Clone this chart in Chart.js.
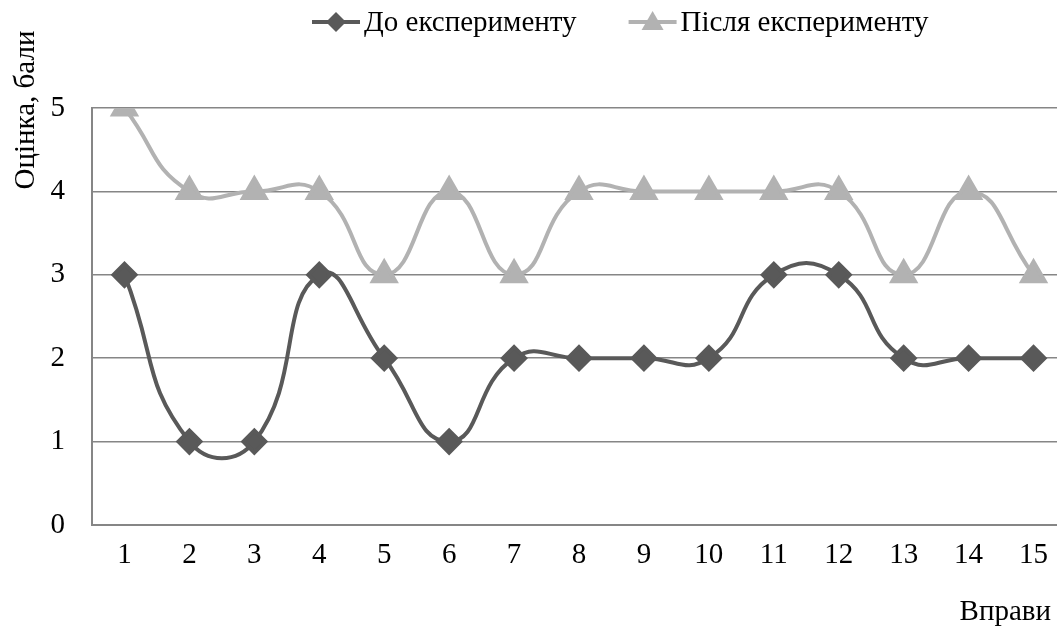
<!DOCTYPE html>
<html>
<head>
<meta charset="utf-8">
<script src="https://cdn.jsdelivr.net/npm/chart.js@4/dist/chart.umd.min.js"></script>
<style>
  html, body { margin: 0; padding: 0; background: #fff; overflow: hidden; }
  /* wider than the window: the plot area runs past the right edge, as in the original */
  #wrap { width: 1083px; height: 631px; }
  canvas { display: block; }
</style>
</head>
<body>
<div id="wrap"><canvas id="gradesChart"></canvas></div>
<script>
const exercises = ["1", "2", "3", "4", "5", "6", "7", "8", "9", "10", "11", "12", "13", "14", "15"];
const beforeScores = [3, 1, 1, 3, 2, 1, 2, 2, 2, 2, 3, 3, 2, 2, 2];
const afterScores = [5, 4, 4, 4, 3, 4, 3, 4, 4, 4, 4, 4, 3, 4, 3];
const seriesNames = ["До експерименту", "Після експерименту"];
const yTitle = "Оцінка, бали";
const xTitle = "Вправи";

const FONT = "'Liberation Serif', 'Times New Roman', serif";
const FS = 29;
const darkGray = "#595959";
const lightGray = "#b2b2b2";
const axisGray = "#868686";

// legend + axis titles drawn by hand (Excel style: line with marker through it)
const extras = {
  id: "extras",
  afterDraw(chart) {
    const c = chart.ctx;
    c.save();
    c.font = FS + "px " + FONT;
    c.fillStyle = "#000";
    c.textBaseline = "middle";

    const y = 22;
    let x = 312;
    chart.data.datasets.forEach((ds) => {
      c.strokeStyle = ds.borderColor;
      c.lineWidth = 4;
      c.beginPath();
      c.moveTo(x, y);
      c.lineTo(x + 48, y);
      c.stroke();
      c.fillStyle = ds.pointBackgroundColor;
      const cx = x + 24;
      c.beginPath();
      if (ds.pointStyle === "rectRot") {
        c.moveTo(cx, y - 10); c.lineTo(cx + 10, y); c.lineTo(cx, y + 10); c.lineTo(cx - 10, y);
      } else {
        c.moveTo(cx, y - 11); c.lineTo(cx + 11, y + 8); c.lineTo(cx - 11, y + 8);
      }
      c.closePath();
      c.fill();
      c.fillStyle = "#000";
      c.textAlign = "left";
      c.fillText(ds.label, x + 52, y + 1);
      x += 52 + c.measureText(ds.label).width + 52;
    });

    // x title, bottom right
    c.textAlign = "right";
    c.fillText(xTitle, 1051, 612);

    // y title, rotated, near the top of the plot
    c.translate(26, chart.chartArea.top + 2);
    c.rotate(-Math.PI / 2);
    c.textAlign = "center";
    c.fillText(yTitle, 0, 0);
    c.restore();
  }
};

new Chart(document.getElementById("gradesChart"), {
  type: "line",
  data: {
    labels: exercises,
    datasets: [
      {
        label: seriesNames[0],
        data: beforeScores,
        borderColor: darkGray,
        backgroundColor: darkGray,
        pointBackgroundColor: darkGray,
        pointBorderColor: darkGray,
        borderWidth: 4,
        pointStyle: "rectRot",
        pointRadius: 11,
        pointHoverRadius: 11,
        tension: 0.5
      },
      {
        label: seriesNames[1],
        data: afterScores,
        borderColor: lightGray,
        backgroundColor: lightGray,
        pointBackgroundColor: lightGray,
        pointBorderColor: lightGray,
        borderWidth: 4,
        pointStyle: "triangle",
        pointRadius: 13,
        pointHoverRadius: 13,
        tension: 0.5
      }
    ]
  },
  options: {
    responsive: true,
    maintainAspectRatio: false,
    animation: false,
    layout: { padding: { top: 108, right: 7, left: 0, bottom: 0 } },
    plugins: {
      legend: { display: false },
      tooltip: { enabled: false }
    },
    scales: {
      x: {
        offset: true,
        grid: { display: false, drawTicks: false },
        border: { display: true, color: axisGray, width: 2 },
        ticks: { color: "#000", font: { family: FONT, size: FS }, padding: 13, maxRotation: 0 },
        afterFit(scale) {
          scale.height = 106;
          scale.paddingLeft = 0;
          scale.paddingRight = 0;
        }
      },
      y: {
        min: 0,
        max: 5,
        ticks: { stepSize: 1, color: "#000", font: { family: FONT, size: FS }, padding: 27 },
        grid: { color: axisGray, lineWidth: 1.5, drawTicks: false },
        border: { display: true, color: axisGray, width: 2 },
        afterFit(scale) { scale.width = 92; }
      }
    }
  },
  plugins: [extras]
});
</script>
</body>
</html>
